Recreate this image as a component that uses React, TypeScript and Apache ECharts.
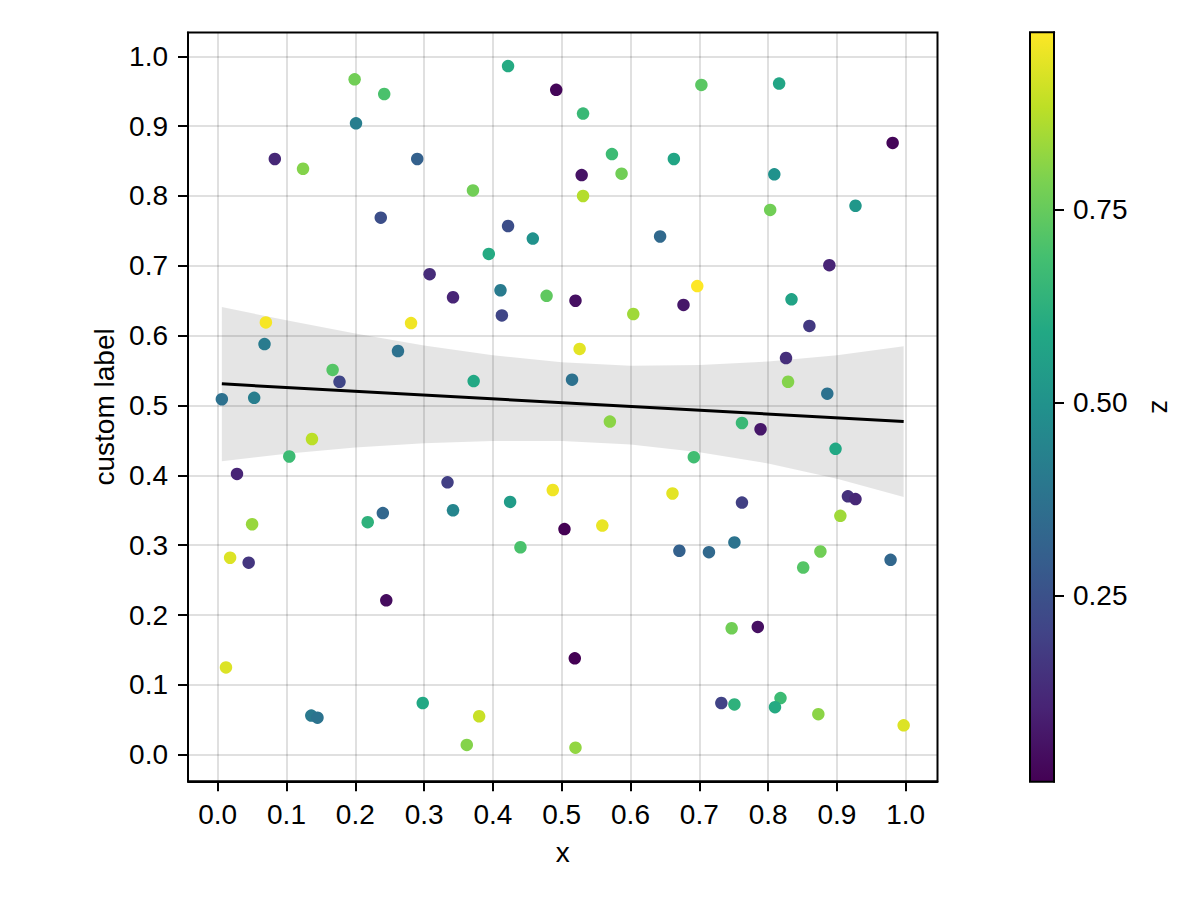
import React, { useEffect, useRef } from "react";
import * as echarts from "echarts";

const xs = [
  0.422, 0.492, 0.199, 0.242, 0.201, 0.083, 0.124, 0.29, 0.371, 0.237,
  0.422, 0.458, 0.394, 0.308, 0.531, 0.703, 0.816, 0.981, 0.573, 0.529,
  0.587, 0.663, 0.809, 0.531, 0.803, 0.927, 0.643, 0.889, 0.342, 0.411,
  0.478, 0.413, 0.07, 0.281, 0.068, 0.262, 0.167, 0.177, 0.372, 0.006,
  0.053, 0.137, 0.104, 0.028, 0.334, 0.487, 0.425, 0.342, 0.24, 0.218,
  0.05, 0.697, 0.52, 0.677, 0.604, 0.834, 0.86, 0.526, 0.826, 0.515,
  0.829, 0.886, 0.57, 0.762, 0.789, 0.898, 0.692, 0.661, 0.762, 0.916,
  0.927, 0.905, 0.559, 0.504, 0.44, 0.018, 0.045, 0.245, 0.012, 0.136,
  0.145, 0.298, 0.38, 0.362, 0.671, 0.714, 0.751, 0.876, 0.851, 0.978,
  0.747, 0.785, 0.519, 0.732, 0.751, 0.818, 0.81, 0.873, 0.997, 0.52,
];

const ys = [
  0.986, 0.952, 0.967, 0.946, 0.904, 0.853, 0.839, 0.853, 0.808, 0.769,
  0.757, 0.739, 0.717, 0.688, 0.918, 0.959, 0.961, 0.876, 0.86, 0.83,
  0.832, 0.853, 0.831, 0.8, 0.78, 0.786, 0.742, 0.701, 0.655, 0.665,
  0.657, 0.629, 0.619, 0.618, 0.588, 0.578, 0.551, 0.534, 0.535, 0.509,
  0.511, 0.452, 0.427, 0.402, 0.39, 0.379, 0.362, 0.35, 0.346, 0.333,
  0.33, 0.671, 0.65, 0.644, 0.631, 0.652, 0.614, 0.581, 0.568, 0.537,
  0.534, 0.517, 0.477, 0.475, 0.466, 0.438, 0.426, 0.374, 0.361, 0.37,
  0.366, 0.342, 0.328, 0.323, 0.297, 0.282, 0.275, 0.221, 0.125, 0.056,
  0.053, 0.074, 0.055, 0.014, 0.292, 0.29, 0.304, 0.291, 0.268, 0.279,
  0.181, 0.183, 0.138, 0.074, 0.072, 0.081, 0.068, 0.058, 0.042, 0.01,
];

const zs = [
  0.6, 0.02, 0.77, 0.7, 0.42, 0.12, 0.8, 0.31, 0.77, 0.24,
  0.24, 0.5, 0.6, 0.13, 0.66, 0.73, 0.58, 0.02, 0.67, 0.06,
  0.77, 0.58, 0.5, 0.87, 0.77, 0.52, 0.34, 0.11, 0.11, 0.41,
  0.74, 0.21, 0.97, 0.96, 0.41, 0.37, 0.72, 0.21, 0.59, 0.37,
  0.42, 0.88, 0.67, 0.11, 0.19, 0.96, 0.54, 0.45, 0.33, 0.63,
  0.83, 0.98, 0.05, 0.07, 0.84, 0.57, 0.17, 0.94, 0.14, 0.37,
  0.8, 0.37, 0.81, 0.66, 0.07, 0.59, 0.68, 0.94, 0.19, 0.15,
  0.12, 0.84, 0.95, 0.01, 0.7, 0.93, 0.16, 0.04, 0.93, 0.4,
  0.38, 0.59, 0.9, 0.8, 0.31, 0.34, 0.38, 0.77, 0.72, 0.33,
  0.77, 0.05, 0.01, 0.2, 0.63, 0.67, 0.6, 0.81, 0.93, 0.82,
];

const xTicks = [0, 0.1, 0.2, 0.3, 0.4, 0.5, 0.6, 0.7, 0.8, 0.9, 1.0];
const yTicks = [0, 0.1, 0.2, 0.3, 0.4, 0.5, 0.6, 0.7, 0.8, 0.9, 1.0];
const zTicks = [0.25, 0.5, 0.75];

const fitX = [0.006, 0.997];
const fitY = [0.531, 0.477];

const bandX = [0.006, 0.1, 0.2, 0.3, 0.4, 0.5, 0.6, 0.7, 0.8, 0.9, 0.997];
const bandUpper = [0.641, 0.622, 0.603, 0.586, 0.572, 0.562, 0.557, 0.558, 0.563, 0.572, 0.585];
const bandLower = [0.42, 0.431, 0.44, 0.446, 0.449, 0.449, 0.444, 0.433, 0.417, 0.395, 0.369];

const viridis = [
  "#440154", "#482475", "#414487", "#355f8d", "#2a788e", "#21918c",
  "#22a884", "#44bf70", "#7ad151", "#bddf26", "#fde725",
];

const Z_MIN = 0.0095;
const Z_MAX = 0.98;
const FONT = "'Liberation Sans', Arial, Helvetica, sans-serif";
const FS = 28;

export default function App() {
  const ref = useRef<HTMLDivElement>(null);

  useEffect(() => {
    if (!ref.current) return;
    const chart = echarts.init(ref.current, null, { renderer: "svg" });
    const points = xs.map((x, i) => [x, ys[i], zs[i]]);
    const labelStyle = { fontSize: FS, color: "#000", fontFamily: FONT };
    const tickLine = { color: "#000", width: 2 };

    const option: any = {
      animation: false,
      backgroundColor: "#fff",
      textStyle: { fontFamily: FONT, color: "#000" },
      grid: [
        {
          left: 188,
          top: 32.5,
          width: 749.5,
          height: 748.8,
          show: true,
          borderColor: "#000",
          borderWidth: 2,
          backgroundColor: "transparent",
          containLabel: false,
        },
        {
          left: 1030,
          top: 32.3,
          width: 24,
          height: 749.4,
          show: true,
          borderColor: "#000",
          borderWidth: 2,
          backgroundColor: new echarts.graphic.LinearGradient(
            0, 1, 0, 0,
            viridis.map((c, i) => ({ offset: i / (viridis.length - 1), color: c }))
          ),
          containLabel: false,
        },
      ],
      visualMap: {
        type: "continuous",
        show: false,
        min: Z_MIN,
        max: Z_MAX,
        dimension: 2,
        seriesIndex: 1,
        inRange: { color: viridis },
      },
      xAxis: [
        {
          gridIndex: 0,
          type: "value",
          min: -0.0432,
          max: 1.0462,
          position: "bottom",
          axisLine: { show: true, onZero: false, lineStyle: tickLine },
          axisTick: { show: true, inside: false, length: 10, customValues: xTicks, lineStyle: tickLine },
          axisLabel: {
            ...labelStyle,
            customValues: xTicks,
            margin: 19,
            formatter: (v: number) => v.toFixed(1),
          },
          splitLine: { show: true, lineStyle: { color: "rgba(0,0,0,0.12)", width: 2 } },
          name: "x",
          nameLocation: "middle",
          nameGap: 57,
          nameTextStyle: labelStyle,
        },
        {
          gridIndex: 1,
          type: "value",
          min: 0,
          max: 1,
          show: false,
        },
      ],
      yAxis: [
        {
          gridIndex: 0,
          type: "value",
          min: -0.0381,
          max: 1.0341,
          position: "left",
          axisLine: { show: true, onZero: false, lineStyle: tickLine },
          axisTick: { show: true, inside: false, length: 10, customValues: yTicks, lineStyle: tickLine },
          axisLabel: {
            ...labelStyle,
            customValues: yTicks,
            margin: 20,
            formatter: (v: number) => v.toFixed(1),
          },
          splitLine: { show: true, lineStyle: { color: "rgba(0,0,0,0.12)", width: 2 } },
          name: "custom label",
          nameLocation: "middle",
          nameGap: 70,
          nameTextStyle: labelStyle,
        },
        {
          gridIndex: 1,
          type: "value",
          min: Z_MIN,
          max: Z_MAX,
          position: "right",
          axisLine: { show: true, onZero: false, lineStyle: tickLine },
          axisTick: { show: true, inside: false, length: 10, customValues: zTicks, lineStyle: tickLine },
          axisLabel: {
            ...labelStyle,
            customValues: zTicks,
            margin: 19,
            formatter: (v: number) => v.toFixed(2),
          },
          splitLine: { show: false },
          name: "z",
          nameLocation: "middle",
          nameGap: 93,
          nameRotate: -90,
          nameTextStyle: labelStyle,
        },
      ],
      series: [
        {
          type: "custom",
          xAxisIndex: 0,
          yAxisIndex: 0,
          silent: true,
          z: 1,
          data: [[bandX[0], bandUpper[0]]],
          renderItem: (_params: any, api: any) => {
            const pts: number[][] = [];
            for (let i = 0; i < bandX.length; i++) pts.push(api.coord([bandX[i], bandUpper[i]]));
            for (let i = bandX.length - 1; i >= 0; i--) pts.push(api.coord([bandX[i], bandLower[i]]));
            return {
              type: "polygon",
              shape: { points: pts, smooth: 0 },
              style: { fill: "rgba(0,0,0,0.1)", stroke: "none" },
            };
          },
        },
        {
          type: "scatter",
          xAxisIndex: 0,
          yAxisIndex: 0,
          symbol: "circle",
          symbolSize: 12.5,
          z: 2,
          data: points,
          itemStyle: { opacity: 1 },
        },
        {
          type: "line",
          xAxisIndex: 0,
          yAxisIndex: 0,
          z: 3,
          showSymbol: false,
          symbol: "none",
          data: fitX.map((x, i) => [x, fitY[i]]),
          lineStyle: { color: "#000", width: 3 },
        },
      ],
    };

    chart.setOption(option);
    return () => chart.dispose();
  }, []);

  return (
    <div
      ref={ref}
      style={{ position: "absolute", left: 0, top: 0, width: 1200, height: 900, background: "#fff" }}
    />
  );
}
